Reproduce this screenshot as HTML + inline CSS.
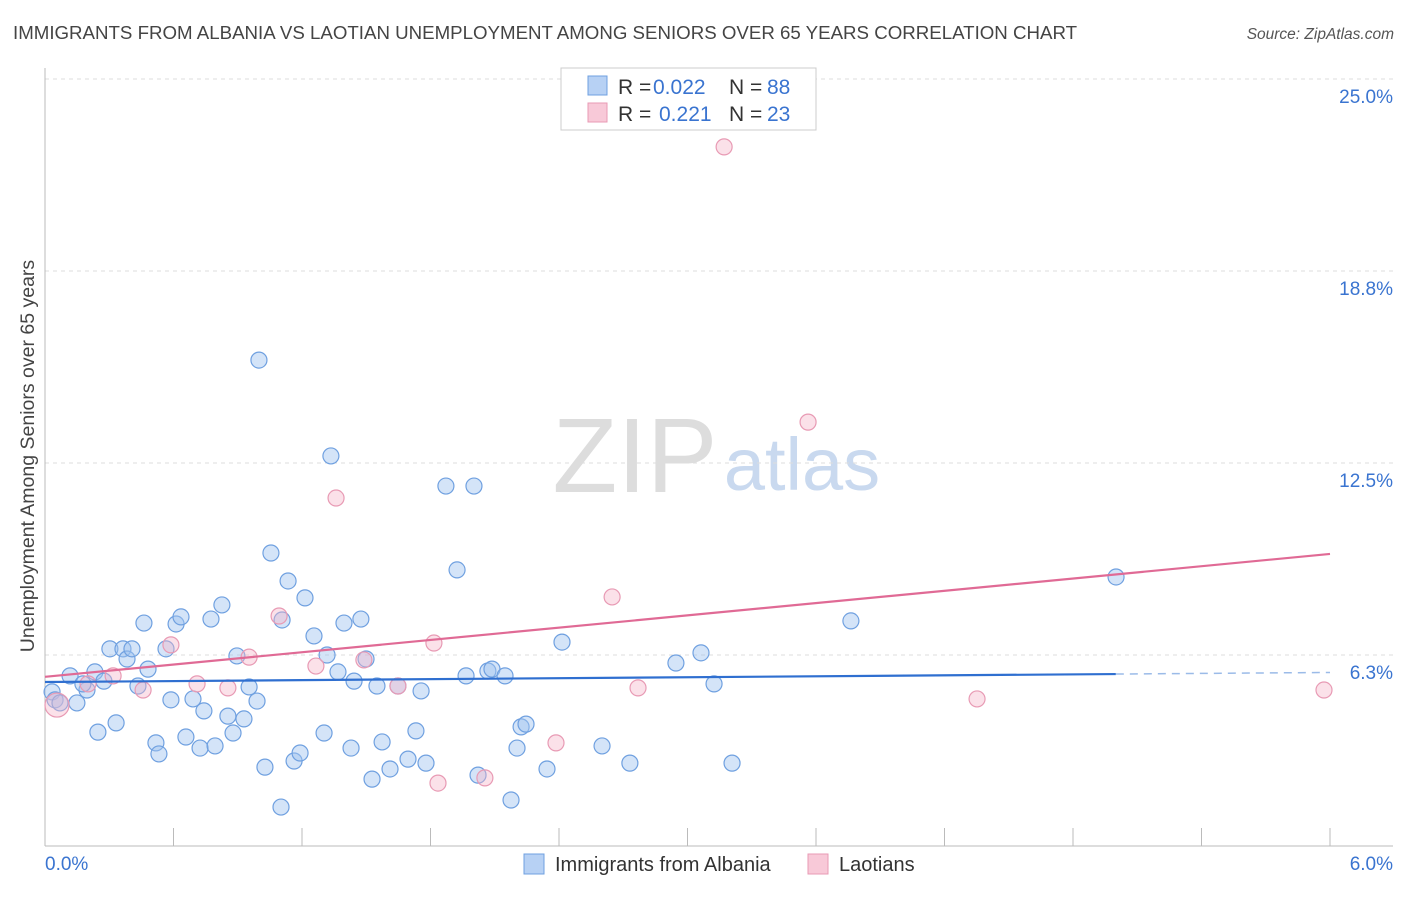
<!DOCTYPE html>
<html><head><meta charset="utf-8">
<style>
body{margin:0;background:#fff;font-family:"Liberation Sans",sans-serif;}
svg text{font-family:"Liberation Sans",sans-serif;}
</style></head>
<body>
<svg id="chart" width="1406" height="892" viewBox="0 0 1406 892" xmlns="http://www.w3.org/2000/svg">
<text x="13" y="39" font-size="18.7" fill="#444">IMMIGRANTS FROM ALBANIA VS LAOTIAN UNEMPLOYMENT AMONG SENIORS OVER 65 YEARS CORRELATION CHART</text>
<text x="1394" y="39" font-size="15.5" fill="#555" text-anchor="end" font-style="italic">Source: ZipAtlas.com</text>
<g>
<text x="635" y="492" font-size="106" fill="#ddd" text-anchor="middle" font-family="Liberation Serif, serif">ZIP</text>
<text x="802" y="490" font-size="74" fill="#c9d9ef" text-anchor="middle">atlas</text>
</g>
<g id="grid"></g>
<g id="axes"></g>
<g id="marks"></g>
<text transform="translate(34,456) rotate(-90)" font-size="19.5" fill="#444" text-anchor="middle">Unemployment Among Seniors over 65 years</text>
<g>
<rect x="561" y="68" width="255" height="62" fill="#fff" stroke="#ccc"/>
<g>
<rect x="588" y="76" width="19" height="19" fill="#b7d1f4" stroke="#6fa0e0"/>
<text x="618" y="94" font-size="21" fill="#333">R = </text><text x="653" y="94" font-size="21" fill="#3a74d0">0.022</text>
<text x="729" y="94" font-size="21" fill="#333">N = </text><text x="767" y="94" font-size="21" fill="#3a74d0">88</text>
</g>
<g>
<rect x="588" y="103" width="19" height="19" fill="#f8c9d8" stroke="#e89ab4"/>
<text x="618" y="121" font-size="21" fill="#333">R = </text><text x="659" y="121" font-size="21" fill="#3a74d0">0.221</text>
<text x="729" y="121" font-size="21" fill="#333">N = </text><text x="767" y="121" font-size="21" fill="#3a74d0">23</text>
</g>
</g>
<g>
<rect x="524" y="854" width="20" height="20" fill="#b7d1f4" stroke="#6fa0e0"/>
<text x="555" y="871" font-size="20" fill="#333">Immigrants from Albania</text>
<rect x="808" y="854" width="20" height="20" fill="#f8c9d8" stroke="#e89ab4"/>
<text x="839" y="871" font-size="20" fill="#333">Laotians</text>
</g>
</svg>
<script>
const yTicks=[25,18.75,12.5,6.25];
const yTickLabels=["25.0%","18.8%","12.5%","6.3%"];
const xTickVals=[0,0.6,1.2,1.8,2.4,3.0,3.6,4.2,4.8,5.4,6.0];
const xEndLabels=["0.0%","6.0%"];
const blueX=[0.033,0.047,0.07,0.117,0.149,0.196,0.233,0.177,0.247,0.275,0.303,0.332,0.364,0.383,0.406,0.434,0.462,0.481,0.518,0.532,0.565,0.588,0.612,0.635,0.658,0.691,0.724,0.742,0.775,0.794,0.826,0.854,0.878,0.896,0.929,0.953,0.99,0.999,1.027,1.055,1.102,1.135,1.107,1.163,1.191,1.214,1.256,1.303,1.317,1.335,1.368,1.396,1.429,1.443,1.475,1.499,1.527,1.550,1.574,1.611,1.648,1.695,1.732,1.756,1.779,1.872,1.924,1.966,2.003,2.022,2.068,2.087,2.148,2.176,2.204,2.223,2.246,2.344,2.414,2.601,2.731,2.946,3.063,3.124,3.208,3.763,5.001];
const blueY=[5.05,4.79,4.69,5.57,4.69,5.11,5.70,5.31,3.74,5.40,6.45,4.04,6.45,6.12,6.45,5.24,7.29,5.79,3.39,3.03,6.45,4.79,7.26,7.49,3.58,4.82,3.22,4.43,7.42,3.29,7.88,4.26,3.71,6.22,4.17,5.21,4.75,15.85,2.60,9.57,1.30,8.66,7.39,2.80,3.06,8.11,6.87,3.71,6.25,12.73,5.70,7.29,3.22,5.40,7.42,6.12,2.21,5.24,3.42,2.54,5.24,2.86,3.78,5.08,2.73,11.75,9.02,5.57,11.75,2.34,5.73,5.79,5.57,1.53,3.22,3.91,4.0,2.54,6.67,3.29,2.73,5.99,6.32,5.31,2.73,7.36,8.79];
const pinkX=[0.056,0.201,0.318,0.458,0.588,0.71,0.854,0.953,1.093,1.265,1.359,1.489,1.648,1.816,1.835,2.054,2.386,2.648,2.769,3.171,3.563,4.352,5.972];
const pinkY=[4.62,5.31,5.57,5.11,6.58,5.31,5.18,6.18,7.52,5.89,11.36,6.09,5.24,6.64,2.08,2.25,3.39,8.14,5.18,22.79,13.83,4.82,5.11];
const blueTrend=[5.37,5.63];
const blueTrendX=[0,5.0,6.0];
const pinkTrend=[5.54,9.54];

const NS="http://www.w3.org/2000/svg";
const X=v=>45+v*1285/6;
const Y=v=>847-v*30.72;
function mk(tag,attrs,parent){const e=document.createElementNS(NS,tag);for(const k in attrs)e.setAttribute(k,attrs[k]);parent.appendChild(e);return e;}
const grid=document.getElementById('grid'),axes=document.getElementById('axes'),marks=document.getElementById('marks');
yTicks.forEach((t,i)=>{
 const l=mk('line',{x1:45,x2:1393,y1:Y(t),y2:Y(t),stroke:'#ddd','stroke-dasharray':'4,4'},grid);
 
 
 const tx=mk('text',{x:1393,y:Y(t)+24,'font-size':19,fill:'#3a74d0','text-anchor':'end'},axes);
 tx.textContent=yTickLabels[i];
 
 
});
const ya=mk('line',{x1:45,x2:45,y1:68,y2:846,stroke:'#bbb'},axes);


const xa=mk('line',{x1:45,x2:1393,y1:846,y2:846,stroke:'#bbb'},axes);


xTickVals.forEach(t=>{
 const l=mk('line',{x1:X(t),x2:X(t),y1:828,y2:846,stroke:'#bbb'},axes);
 
 
});
[[0,'start',45],[6,'end',1393]].forEach((d,i)=>{
 const tx=mk('text',{x:d[2],y:870,'font-size':19,fill:'#3a74d0','text-anchor':d[1]},axes);
 tx.textContent=xEndLabels[i];
 
 
});
blueX.forEach((x,i)=>{
 const c=mk('circle',{cx:X(x),cy:Y(blueY[i]),r:8,fill:'rgba(160,196,240,0.45)',stroke:'#6fa0e0','stroke-width':1.2},marks);
 
 
});
pinkX.forEach((x,i)=>{
 const c=mk('circle',{cx:X(x),cy:Y(pinkY[i]),r:i===0?12:8,fill:'rgba(245,180,200,0.4)',stroke:'#e89ab4','stroke-width':1.2},marks);
 
 
});
const slopeB=(blueTrend[1]-blueTrend[0])/blueTrendX[1];
const bt=mk('line',{x1:X(0),y1:Y(blueTrend[0]),x2:X(blueTrendX[1]),y2:Y(blueTrend[1]),stroke:'#2f6fd0','stroke-width':2.2},marks);


const bd=mk('line',{x1:X(blueTrendX[1]),y1:Y(blueTrend[1]),x2:X(blueTrendX[2]),y2:Y(blueTrend[0]+slopeB*blueTrendX[2]),stroke:'#9bbbe8','stroke-width':1.5,'stroke-dasharray':'8,6'},marks);


const pt=mk('line',{x1:X(0),y1:Y(pinkTrend[0]),x2:X(6),y2:Y(pinkTrend[1]),stroke:'#e06a95','stroke-width':2.2},marks);


</script>
</body></html>
